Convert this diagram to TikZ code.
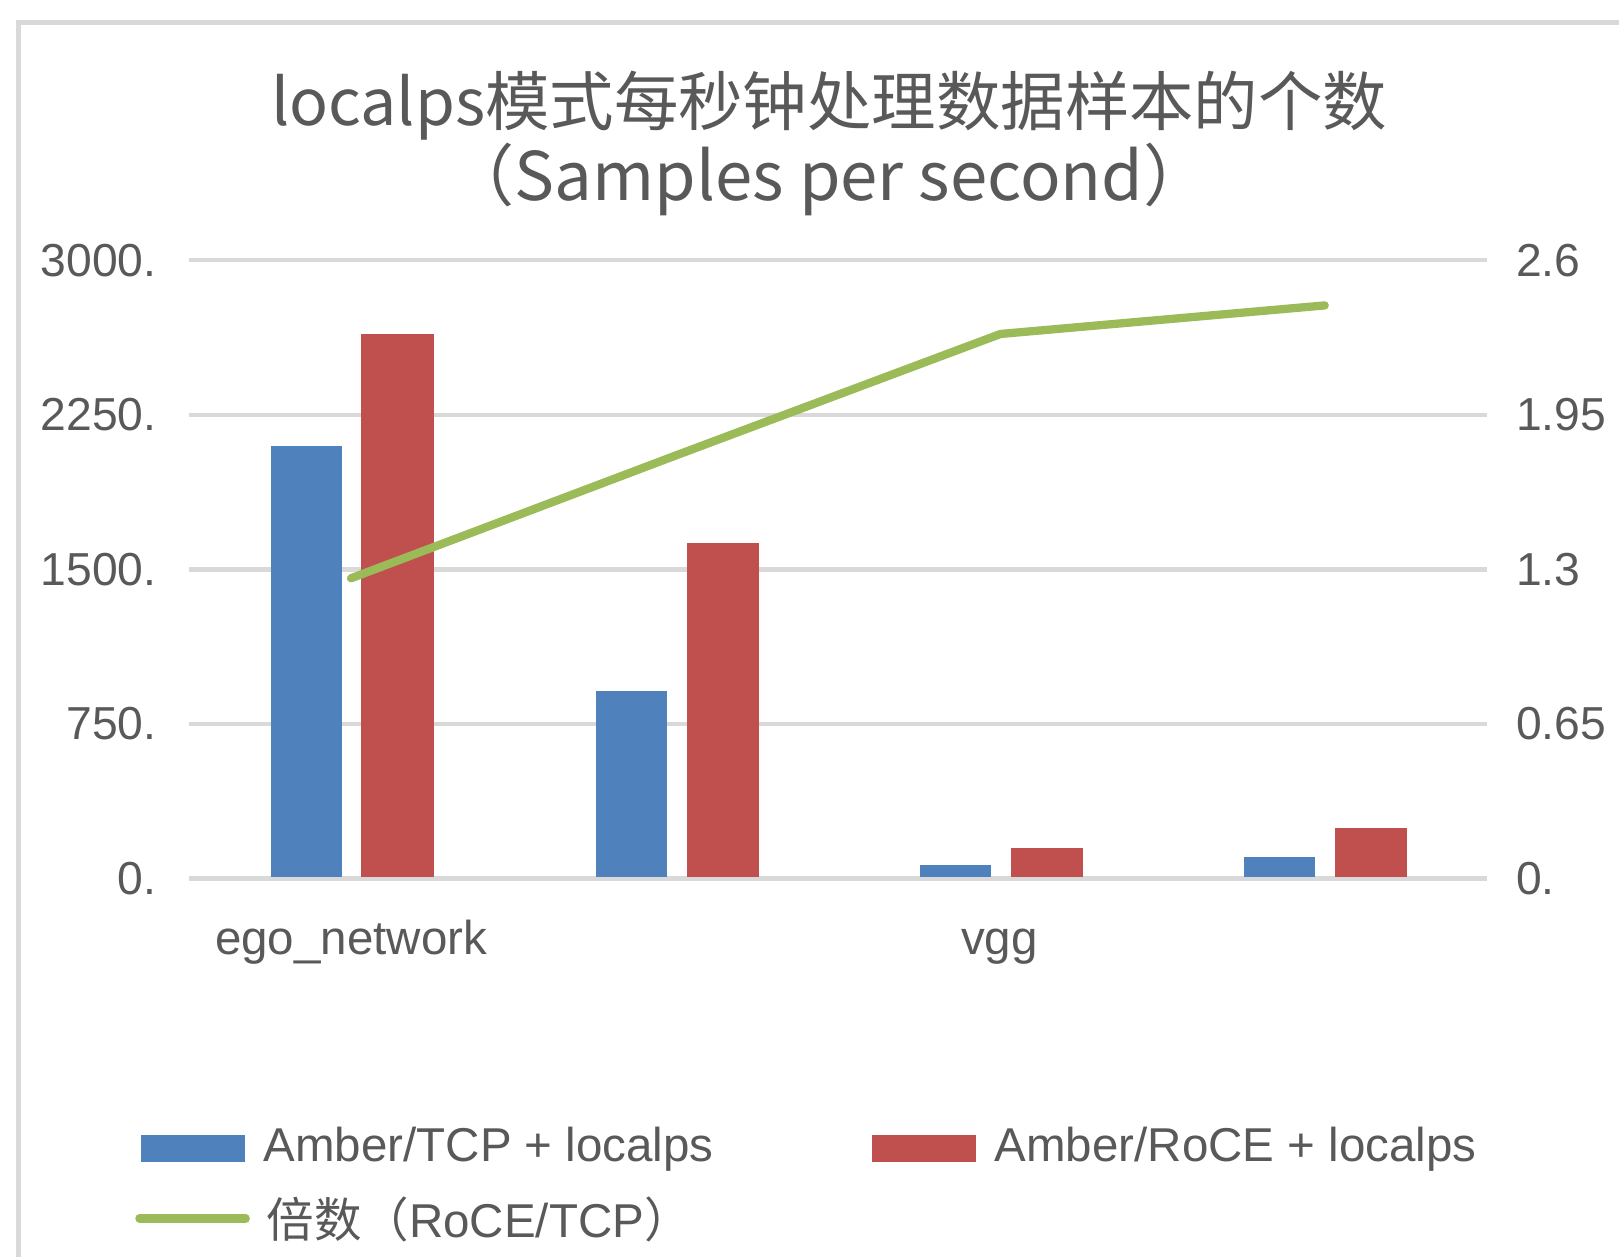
\documentclass[tikz,border=0pt]{standalone}
\usepackage{fontspec}
\setmainfont{Liberation Sans}
\newfontfamily\cjk{Noto Sans CJK SC}
\definecolor{gridgray}{HTML}{D9D9D9}
\definecolor{txtgray}{HTML}{595959}
\definecolor{serblue}{HTML}{4F81BD}
\definecolor{serred}{HTML}{C0504D}
\definecolor{sergreen}{HTML}{9BBB59}
\begin{document}
\begin{tikzpicture}[x=0.5pt,y=-0.5pt,
  frameline/.style={draw=gridgray,line width=2.5pt},
  gridline/.style={draw=gridgray,line width=2.2pt},
  tcpbar/.style={fill=serblue},
  rocebar/.style={fill=serred},
  ratioline/.style={draw=sergreen,line width=4pt,line cap=round,line join=round},
  axlabel/.style={text=txtgray,inner sep=0pt,font=\fontsize{22.4}{26}\selectfont},
  titletext/.style={text=txtgray,inner sep=0pt},
  legtext/.style={text=txtgray,inner sep=0pt,anchor=west,font=\fontsize{23}{27}\selectfont}]
\useasboundingbox (0,0) rectangle (1568,1217);
\fill[white] (0,0) rectangle (1568,1217);
% chart frame
\draw[frameline] (18,1230) -- (18,22) -- (1580,22);

% title
\node[titletext,font=\cjk\fontsize{31.2}{36}\selectfont] (title1) at (803,102) {localps模式每秒钟处理数据样本的个数};
\node[titletext,font=\cjk\fontsize{32.5}{38}\selectfont] (title2) at (803,174) {（Samples per second）};

% horizontal gridlines and both axes
\foreach \i/\l/\r in {0/0./0.,1/750./0.65,2/1500./1.3,3/2250./1.95,4/3000./2.6}{
  \pgfmathsetmacro{\yy}{851-\i*149.75}
  \draw[gridline] (183,\yy) -- (1440,\yy);
  \node[axlabel,anchor=east] (yl\i) at (152,\yy) {\l};
  \node[axlabel,anchor=west] (yr\i) at (1468,\yy) {\r};
}

% bars: group centre / TCP value / RoCE value
\foreach \c/\b/\r in {340/2100/2640, 655/911/1627, 969/65/150, 1283/105/245}{
  \fill[tcpbar]  (\c-78,849) rectangle (\c-9,{851-\b*0.19967});
  \fill[rocebar] (\c+10,849) rectangle (\c+80,{851-\r*0.19967});
}

% ratio series on the secondary axis
\coordinate (p1) at (340,{851-1.263*230.38});
\coordinate (p2) at (655,{851-1.78*230.38});
\coordinate (p3) at (969,{851-2.29*230.38});
\coordinate (p4) at (1283,{851-2.41*230.38});
\draw[ratioline] (p1) -- (p2) -- (p3) -- (p4);

% category labels
\node[axlabel,anchor=base,font=\fontsize{23}{27}\selectfont] (cat1) at (340,924) {ego\_network};
\node[axlabel,anchor=base,font=\fontsize{23}{27}\selectfont] (cat2) at (968,924) {vgg};

% legend
\fill[tcpbar] (137,1099) rectangle (237,1125);
\node[legtext] (leg1) at (255,1113) {Amber/TCP + localps};
\fill[rocebar] (845,1099) rectangle (945,1125);
\node[legtext] (leg2) at (963,1113) {Amber/RoCE + localps};
\coordinate (g1) at (135,1180);
\coordinate (g2) at (238,1180);
\draw[ratioline] (g1) -- (g2);
\node[legtext] (leg3) at (258,1181) {{\cjk 倍数（}RoCE/TCP{\cjk ）}};
\end{tikzpicture}
\end{document}
